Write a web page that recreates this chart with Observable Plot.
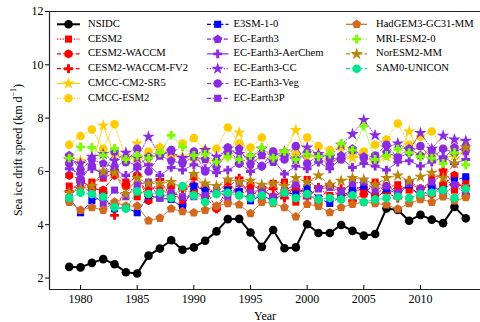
<!DOCTYPE html>
<html><head><meta charset="utf-8">
<script src="https://cdn.jsdelivr.net/npm/d3@7"></script>
<script src="https://cdn.jsdelivr.net/npm/@observablehq/plot@0.6"></script>
<style>
html,body{margin:0;padding:0;background:#fff;}
#chart{position:relative;width:480px;height:322px;}
</style></head>
<body><div id="chart"></div>
<script>
const years = [1979,1980,1981,1982,1983,1984,1985,1986,1987,1988,1989,1990,1991,1992,1993,1994,1995,1996,1997,1998,1999,2000,2001,2002,2003,2004,2005,2006,2007,2008,2009,2010,2011,2012,2013,2014];
const xTicks = [1980,1985,1990,1995,2000,2005,2010];
const yTicks = [2,4,6,8,10,12];

const nsidc = [2.42,2.40,2.57,2.71,2.52,2.22,2.17,2.84,3.11,3.42,3.06,3.15,3.40,3.75,4.21,4.22,3.71,3.17,3.80,3.12,3.15,4.02,3.69,3.69,3.99,3.77,3.59,3.65,4.61,4.55,4.15,4.37,4.19,4.06,4.67,4.24];
const cesm2 = [5.45,5.35,5.6,5.75,5.95,5.6,5.05,5.4,5.35,5.1,5.0,5.8,5.4,5.2,5.6,5.15,5.3,5.0,5.55,5.6,4.85,5.7,5.35,5.1,5.2,5.6,5.15,5.6,5.4,5.5,5.3,5.2,5.75,5.9,5.3,5.65];
const cesm2Waccm = [5.85,5.7,5.35,5.3,5.85,5.45,5.85,4.9,5.15,5.45,4.75,5.25,5.05,4.6,5.2,5.25,5.5,5.3,5.05,5.25,5.35,5.2,4.85,5.45,5.0,5.25,5.35,5.1,5.45,5.3,5.45,5.05,5.15,5.5,5.85,5.1];
const cesm2WaccmFv2 = [5.25,5.6,5.45,5.2,4.35,5.5,5.85,5.1,5.7,5.0,5.35,5.5,5.35,4.6,5.4,5.75,5.05,5.4,5.35,5.0,5.45,5.0,5.4,5.5,5.35,4.9,5.15,5.55,5.2,5.0,5.65,5.35,5.45,6.05,5.5,5.45];
const cmccCm2 = [6.55,6.4,6.2,7.72,6.6,6.5,7.05,6.45,6.9,6.55,6.55,6.4,6.45,6.35,6.6,7.46,6.3,6.6,6.45,6.7,7.55,6.5,6.6,6.35,6.45,6.5,6.55,6.3,6.55,6.45,7.5,6.6,6.7,6.5,6.6,6.75];
const cmccEsm2 = [7.0,7.33,7.57,6.85,7.77,6.5,6.45,6.75,6.9,6.6,7.05,7.25,6.8,6.85,7.65,7.05,6.9,7.27,6.75,6.7,6.65,7.27,6.95,6.8,6.9,6.7,6.75,7.0,7.2,7.8,7.0,7.3,7.5,6.85,6.9,6.85];
const e3sm = [5.0,4.45,4.9,5.05,4.6,4.65,4.45,5.1,5.0,4.95,4.65,5.45,5.3,5.2,5.3,5.25,4.9,5.1,4.9,5.2,5.15,5.4,5.0,4.8,5.05,5.3,5.45,4.95,5.35,5.15,5.5,5.05,5.4,5.3,5.65,5.8];
const ecEarth3 = [6.6,6.05,6.45,6.3,6.15,6.4,6.2,6.55,6.6,6.4,6.3,6.55,6.45,6.15,6.7,6.85,6.25,6.6,6.35,6.55,6.45,6.7,6.5,6.25,6.6,6.85,6.55,6.4,6.7,6.55,6.85,6.6,6.8,6.45,6.9,6.75];
const ecAerChem = [6.1,5.9,6.1,5.95,6.05,5.85,6.1,6.25,5.85,6.15,6.05,6.25,6.1,5.95,6.05,6.3,6.0,6.2,6.45,5.9,6.2,6.1,6.35,6.1,6.5,6.15,6.3,6.2,6.05,6.35,6.4,6.2,6.35,6.55,6.3,6.45];
const ecCC = [6.45,6.3,6.55,6.65,6.4,6.7,6.5,7.3,6.6,6.75,6.5,6.6,6.8,6.55,6.85,6.65,6.5,6.85,6.6,6.75,6.45,6.9,6.65,6.55,7.0,7.4,7.93,7.36,6.9,7.05,6.8,7.44,6.85,7.34,7.2,7.15];
const ecVeg = [6.3,5.7,6.2,5.85,6.75,6.35,6.85,6.0,6.6,6.8,6.35,6.75,6.0,6.4,6.9,6.3,6.55,6.2,6.75,6.45,6.95,6.3,6.6,6.5,6.45,6.8,6.5,6.6,7.0,6.5,6.7,6.95,6.5,6.85,6.7,6.95];
const ecEarth3P = [5.0,5.55,5.15,4.8,5.3,5.05,5.5,5.6,5.0,5.2,5.05,5.05,5.1,5.3,5.0,5.55,5.2,5.35,5.05,5.3,5.5,5.1,5.35,5.4,5.25,5.55,5.6,5.3,5.45,5.2,5.55,5.35,5.6,5.1,5.5,5.15];
const hadgem = [4.85,4.55,4.65,4.55,4.85,4.7,4.7,4.15,4.25,4.6,4.5,4.45,4.55,4.7,4.8,4.75,4.42,4.85,4.8,4.65,4.3,4.77,4.7,4.46,4.65,4.77,4.85,4.8,4.75,4.59,4.8,4.95,4.85,5.05,4.9,5.02];
const mri = [6.5,6.92,6.9,6.6,6.86,6.45,6.6,6.5,6.7,7.36,6.92,6.6,6.65,6.35,6.55,6.45,6.6,6.9,6.5,6.75,6.45,6.65,6.55,6.65,7.05,6.8,7.7,6.45,6.6,6.84,6.7,6.55,6.5,6.3,6.7,6.25];
const noresm = [5.2,5.35,5.45,6.0,5.95,5.15,5.75,5.55,5.55,5.6,5.4,5.9,5.55,5.45,5.7,5.6,5.65,5.5,5.55,5.45,5.75,5.6,5.85,5.5,5.65,5.75,5.7,5.5,5.75,5.85,5.65,5.8,5.95,5.75,6.3,6.9];
const sam0 = [5.0,5.2,5.15,5.05,4.65,4.6,5.25,5.15,5.2,5.0,5.45,5.1,4.85,5.15,5.2,5.1,5.0,5.1,4.85,5.2,5.0,5.15,4.95,5.0,4.95,5.1,4.85,4.95,5.0,5.05,5.0,5.15,5.2,5.3,5.0,5.35];

const seriesNames = ["NSIDC","CESM2","CESM2-WACCM","CESM2-WACCM-FV2","CMCC-CM2-SR5","CMCC-ESM2","E3SM-1-0","EC-Earth3","EC-Earth3-AerChem","EC-Earth3-CC","EC-Earth3-Veg","EC-Earth3P","HadGEM3-GC31-MM","MRI-ESM2-0","NorESM2-MM","SAM0-UNICON"];
const seriesValues = [nsidc,cesm2,cesm2Waccm,cesm2WaccmFv2,cmccCm2,cmccEsm2,e3sm,ecEarth3,ecAerChem,ecCC,ecVeg,ecEarth3P,hadgem,mri,noresm,sam0];
const seriesColors = ["#000000","#ff0000","#ff0000","#ff0000","#ffcc00","#ffcc00","#0000ff","#8a2be2","#8a2be2","#8a2be2","#8a2be2","#8a2be2","#d2691e","#7cfc00","#b8860b","#00e68c"];
const seriesMarkers = ["circle","square","hexagon","plus","star","circle","square","pentagon","plus","star","circle","square","pentagon","plus","star","circle"];
const seriesDashes = ["solid","dotted","dashed","dashed","solid","dotted","dashed","dashdot","solid","dotted","dashed","dashdot","solid","dotted","dashed","dashed"];

const dashMap = {solid: null, dotted: "1.2,1.6", dashed: "4,2.2", dashdot: "4,1.6,1.2,1.6"};
const sizeMap = {circle: 4.3, square: 4.0, star: 3.9, plus: 3.7, pentagon: 4.1, hexagon: 4.2};
function polySymbol(n, areaCoef, rot) {
  return {draw(ctx, size) {
    const r = Math.sqrt(size / areaCoef);
    for (let i = 0; i < n; i++) {
      const a = rot + i * 2 * Math.PI / n;
      const px = r * Math.cos(a), py = r * Math.sin(a);
      if (i === 0) ctx.moveTo(px, py); else ctx.lineTo(px, py);
    }
    ctx.closePath();
  }};
}
const symbolMap = {
  circle: d3.symbolCircle,
  square: d3.symbolSquare,
  star: d3.symbolStar,
  plus: d3.symbolCross,
  pentagon: polySymbol(5, 2.378, -Math.PI / 2),
  hexagon: polySymbol(6, 2.598, -Math.PI / 2)
};

const rows = [];
seriesNames.forEach((name, i) => {
  seriesValues[i].forEach((v, j) => rows.push({series: name, idx: i, year: years[j], value: v}));
});

const yMin = 1.57, yMax = 12;
const marks = [];
seriesNames.forEach((name, i) => {
  const d = rows.filter(r => r.idx === i);
  const isObs = i === 0;
  marks.push(Plot.line(d, {x: "year", y: "value", stroke: seriesColors[i], strokeWidth: isObs ? 2 : 1,
    strokeDasharray: dashMap[seriesDashes[i]], strokeOpacity: isObs ? 1 : 0.85}));
  const sym = symbolMap[seriesMarkers[i]];
  marks.push(Plot.dot(d, {x: "year", y: "value", symbol: () => sym, r: sizeMap[seriesMarkers[i]], fill: seriesColors[i], stroke: "none"}));
});

const chart = Plot.plot({
  width: 480, height: 322,
  marginLeft: 49, marginRight: 0, marginTop: 11, marginBottom: 33,
  style: {fontFamily: "'Liberation Serif', 'Times New Roman', serif", fontSize: "12px", color: "#000", background: "#fff"},
  x: {domain: [1977.26, 2015.3]},
  y: {domain: [yMin, yMax]},
  symbol: {type: "identity"},
  marks: [
    ...marks,
    Plot.ruleY([yMax], {stroke: "#222", strokeWidth: 1.2}),
    Plot.ruleY([yMin], {stroke: "#222", strokeWidth: 1.2}),
    Plot.ruleX([1977.26], {stroke: "#222", strokeWidth: 1.2}),
    Plot.axisY({ticks: yTicks, tickSize: 4, tickPadding: 2, label: null, fontSize: 12}),
    Plot.axisX({ticks: xTicks, tickFormat: d => String(d), tickSize: -4, tickPadding: 9, label: null, fontSize: 12})
  ]
});
document.getElementById("chart").appendChild(chart);

const svg = d3.select(chart);
svg.append("text").attr("transform", "translate(19,150) rotate(-90)")
  .attr("text-anchor", "middle").attr("dominant-baseline", "middle")
  .style("font-size", "12px").style("font-family", "'Liberation Serif', serif")
  .html('Sea ice drift speed (km d<tspan dy="-5" font-size="8">−1</tspan><tspan dy="5">)</tspan>');
svg.append("text").attr("x", 265).attr("y", 317)
  .attr("text-anchor", "middle").attr("dominant-baseline", "middle")
  .style("font-size", "12px").style("font-family", "'Liberation Serif', serif").text("Year");

const cols = [{x1: 57, x2: 80, xm: 68.5, xt: 88}, {x1: 207, x2: 228.5, xm: 217.7, xt: 233.5}, {x1: 346, x2: 367, xm: 356.7, xt: 376}];
const lg = svg.append("g").style("font-family", "'Liberation Serif', serif").style("font-size", "10.6px");
seriesNames.forEach((name, i) => {
  const c = cols[Math.floor(i / 6)];
  const y = 24.3 + (i % 6) * 14.8;
  lg.append("line").attr("x1", c.x1).attr("x2", c.x2).attr("y1", y).attr("y2", y)
    .attr("stroke", seriesColors[i]).attr("stroke-width", i === 0 ? 2 : 1.2)
    .attr("stroke-dasharray", dashMap[seriesDashes[i]]);
  const m = seriesMarkers[i];
  const rr = sizeMap[m];
  lg.append("path").attr("d", d3.symbol(symbolMap[m], Math.PI * rr * rr)())
    .attr("transform", `translate(${c.xm},${y})`).attr("fill", seriesColors[i]);
  lg.append("text").attr("x", c.xt).attr("y", y).attr("text-anchor", "start")
    .attr("dominant-baseline", "middle").attr("fill", "#000").text(name);
});
</script></body></html>
